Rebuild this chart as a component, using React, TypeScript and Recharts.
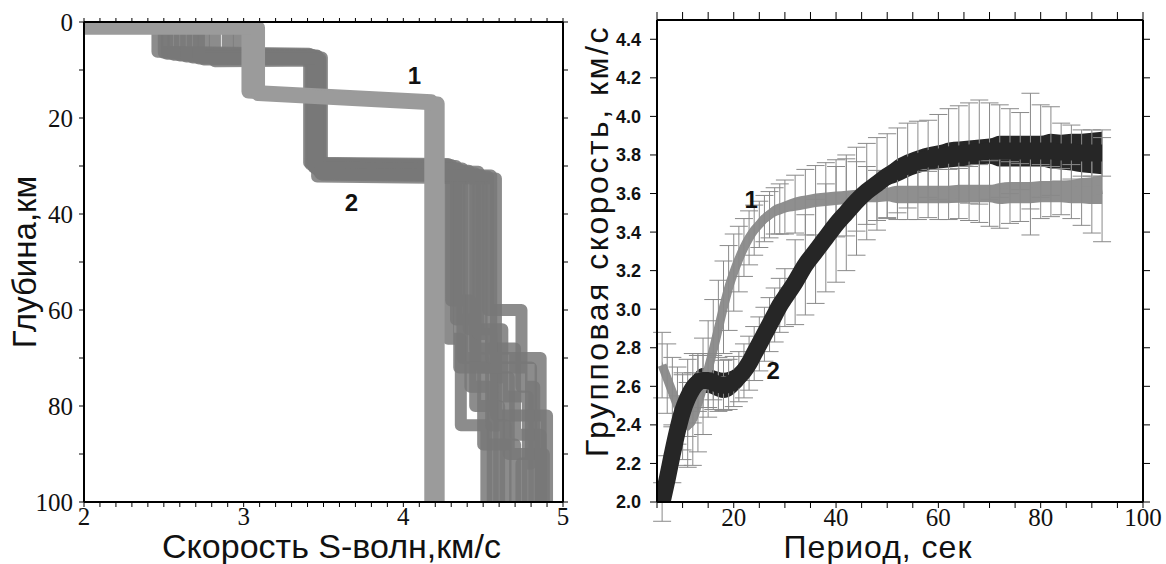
import React from "react";
import {
  Area,
  ComposedChart,
  ErrorBar,
  Line,
  ReferenceDot,
  XAxis,
  YAxis,
} from "recharts";

// ---------- left panel: S-wave velocity profiles, [velocity km/s, depth km]
const model1Top: number[][] = [[2.0, 0.9], [3.03, 0.9], [3.03, 14.5], [4.175, 16.5], [4.175, 100]];
const model1Low: number[][] = [[2.0, 1.2], [3.09, 1.2], [3.09, 15.0], [4.215, 17.0], [4.215, 100]];

const run1: number[][] = [[2.0, 0.6], [2.46, 0.6], [2.46, 6.2], [3.41, 6.6], [3.41, 29.3], [4.28, 29.6], [4.28, 66], [4.36, 66], [4.36, 84], [4.52, 84], [4.52, 100]];
const run2: number[][] = [[2.0, 0.7], [2.52, 0.7], [2.52, 6.6], [3.42, 6.9], [3.42, 29.7], [4.33, 30], [4.33, 62], [4.45, 62], [4.45, 80], [4.6, 80], [4.6, 100]];
const run3: number[][] = [[2.0, 0.8], [2.6, 0.8], [2.6, 7.0], [3.44, 7.2], [3.44, 30.1], [4.37, 30.5], [4.37, 70], [4.5, 70], [4.5, 88], [4.7, 88], [4.7, 100]];
const run4: number[][] = [[2.0, 0.6], [2.68, 0.6], [2.68, 7.4], [3.45, 7.5], [3.45, 30.5], [4.41, 31], [4.41, 64], [4.62, 64], [4.62, 78], [4.78, 78], [4.78, 100]];
const run5: number[][] = [[2.0, 0.9], [2.75, 0.9], [2.75, 7.8], [3.47, 7.8], [3.47, 31], [4.45, 31.5], [4.45, 68], [4.7, 68], [4.7, 86], [4.86, 86], [4.86, 100]];
const run6: number[][] = [[2.0, 0.7], [2.82, 0.7], [2.82, 8.2], [3.48, 8.0], [3.48, 31.4], [4.49, 32], [4.49, 72], [4.58, 72], [4.58, 82], [4.9, 82], [4.9, 100]];
const run7: number[][] = [[2.0, 0.8], [2.9, 0.8], [2.9, 7.6], [3.49, 7.4], [3.49, 31.8], [4.53, 32.2], [4.53, 60], [4.74, 60], [4.74, 76], [4.82, 76], [4.82, 100]];
const run8: number[][] = [[2.0, 0.6], [2.97, 0.6], [2.97, 7.0], [3.46, 7.0], [3.46, 32.2], [4.58, 32.6], [4.58, 74], [4.66, 74], [4.66, 90], [4.88, 90], [4.88, 100]];
const run9: number[][] = [[2.0, 0.7], [2.5, 0.7], [2.5, 6.4], [3.43, 6.8], [3.43, 29.5], [4.3, 29.8], [4.3, 58], [4.42, 58], [4.42, 76], [4.56, 76], [4.56, 100]];
const run10: number[][] = [[2.0, 0.8], [2.56, 0.8], [2.56, 6.8], [3.46, 7.1], [3.46, 30.8], [4.47, 31.2], [4.47, 65], [4.55, 65], [4.55, 84], [4.64, 84], [4.64, 100]];
const run11: number[][] = [[2.0, 0.6], [2.64, 0.6], [2.64, 7.2], [3.44, 7.3], [3.44, 30.3], [4.35, 30.6], [4.35, 72], [4.8, 72], [4.8, 92], [4.74, 92], [4.74, 100]];
const run12: number[][] = [[2.0, 0.9], [2.72, 0.9], [2.72, 7.6], [3.48, 7.6], [3.48, 31.6], [4.55, 32], [4.55, 70], [4.86, 70], [4.86, 100]];
const model2Runs = [run1, run2, run3, run4, run5, run6, run7, run8, run9, run10, run11, run12];

const speedTicks = [2, 2.1, 2.2, 2.3, 2.4, 2.5, 2.6, 2.7, 2.8, 2.9, 3, 3.1, 3.2, 3.3, 3.4, 3.5, 3.6, 3.7, 3.8, 3.9, 4, 4.1, 4.2, 4.3, 4.4, 4.5, 4.6, 4.7, 4.8, 4.9, 5];
const depthTicks = [0, 10, 20, 30, 40, 50, 60, 70, 80, 90, 100];

// ---------- right panel: group velocity dispersion
const periods = [6, 7, 8, 9, 10, 11, 12, 13, 14, 15, 16, 17, 18, 19, 20, 21, 22, 23, 24, 25, 26, 27, 28, 29, 30,
  32, 34, 36, 38, 40, 42, 44, 46, 48, 50, 52, 54, 56, 58, 60, 62, 64, 66, 68, 70, 72, 74, 76, 78, 80, 82, 84, 86, 88, 90, 92];
const curve1 = [2.71, 2.64, 2.57, 2.5, 2.44, 2.4, 2.43, 2.51, 2.6, 2.69, 2.79, 2.9, 3.01, 3.11, 3.19, 3.26, 3.32, 3.37, 3.41, 3.44, 3.47, 3.49, 3.51, 3.52, 3.53,
  3.545, 3.555, 3.565, 3.57, 3.575, 3.58, 3.585, 3.59, 3.59, 3.595, 3.595, 3.595, 3.595, 3.595, 3.595, 3.595, 3.6, 3.6, 3.6, 3.6, 3.6, 3.605, 3.605, 3.605, 3.61, 3.61, 3.61, 3.61, 3.615, 3.615, 3.62];
const spread1 = [0.02, 0.02, 0.02, 0.02, 0.02, 0.03, 0.03, 0.03, 0.03, 0.02, 0.02, 0.02, 0.02, 0.02, 0.02, 0.03, 0.03, 0.03, 0.03, 0.03, 0.03, 0.03, 0.03, 0.03, 0.03,
  0.035, 0.035, 0.035, 0.035, 0.035, 0.035, 0.035, 0.035, 0.035, 0.035, 0.045, 0.045, 0.045, 0.045, 0.045, 0.045, 0.045, 0.045, 0.045, 0.045, 0.055, 0.055, 0.055, 0.055, 0.055, 0.055, 0.055, 0.06, 0.065, 0.07, 0.075];
const curve2 = [2.0, 2.12, 2.25, 2.37, 2.47, 2.54, 2.59, 2.62, 2.63, 2.63, 2.62, 2.61, 2.605, 2.61, 2.625, 2.65, 2.68, 2.72, 2.77, 2.82, 2.87, 2.92, 2.97, 3.02, 3.06,
  3.14, 3.23, 3.3, 3.37, 3.44, 3.5, 3.56, 3.61, 3.65, 3.69, 3.72, 3.745, 3.765, 3.78, 3.79, 3.8, 3.805, 3.81, 3.815, 3.82, 3.82, 3.82, 3.82, 3.82, 3.82, 3.82, 3.815, 3.815, 3.81, 3.81, 3.81];
const spread2 = [0.03, 0.03, 0.03, 0.03, 0.03, 0.065, 0.065, 0.065, 0.065, 0.065, 0.065, 0.065, 0.065, 0.065, 0.065, 0.065, 0.065, 0.05, 0.05, 0.05, 0.05, 0.05, 0.05, 0.05, 0.05,
  0.05, 0.05, 0.05, 0.05, 0.05, 0.05, 0.05, 0.05, 0.05, 0.05, 0.06, 0.06, 0.06, 0.06, 0.06, 0.065, 0.065, 0.065, 0.065, 0.065, 0.08, 0.08, 0.08, 0.08, 0.08, 0.09, 0.09, 0.095, 0.1, 0.105, 0.11];
const err1 = [0.17, 0.18, 0.18, 0.2, 0.22, 0.22, 0.24, 0.25, 0.25, 0.25, 0.26, 0.25, 0.24, 0.22, 0.2, 0.17, 0.15, 0.14, 0.13, 0.12, 0.12, 0.12, 0.12, 0.13, 0.14,
  0.15, 0.17, 0.18, 0.19, 0.2, 0.2, 0.18, 0.15, 0.13, 0.12, 0.13, 0.13, 0.13, 0.12, 0.13, 0.13, 0.13, 0.14, 0.15, 0.17, 0.18, 0.16, 0.15, 0.22, 0.14, 0.13, 0.12, 0.14, 0.18, 0.22, 0.27];
const err2 = [0.1, 0.12, 0.15, 0.18, 0.2, 0.2, 0.18, 0.15, 0.14, 0.14, 0.14, 0.14, 0.13, 0.13, 0.13, 0.13, 0.14, 0.14, 0.14, 0.14, 0.14, 0.14, 0.14, 0.14, 0.15,
  0.22, 0.26, 0.27, 0.28, 0.3, 0.3, 0.28, 0.25, 0.24, 0.22, 0.22, 0.22, 0.21, 0.2, 0.22, 0.24, 0.25, 0.26, 0.27, 0.25, 0.24, 0.22, 0.2, 0.3, 0.24, 0.23, 0.15, 0.14, 0.12, 0.12, 0.12];

const periodTicks = [5, 10, 15, 20, 25, 30, 35, 40, 45, 50, 55, 60, 65, 70, 75, 80, 85, 90, 95, 100];
const velTicks = [2, 2.2, 2.4, 2.6, 2.8, 3, 3.2, 3.4, 3.6, 3.8, 4, 4.2, 4.4];

const gvRows = periods.map((p, i) => ({
  p,
  c1: curve1[i],
  c2: curve2[i],
  b1: [curve1[i] - spread1[i], curve1[i] + spread1[i]],
  b2: [curve2[i] - spread2[i], curve2[i] + spread2[i]],
  e1: err1[i],
  e2: err2[i],
}));

const toPts = (run: number[][]) => run.map(([v, d]) => ({ v, d }));

const serif = "Liberation Serif";
const sans = "Liberation Sans";
const frame = { stroke: "#000", strokeWidth: 2 };
const tickLn = { stroke: "#000", strokeWidth: 1 };
const tag = { fontFamily: sans, fontSize: 24, fontWeight: 700, fill: "#111" };

// tick label renderer, so the font is really applied
function makeTick(fmt: (v: number) => string, side: "bottom" | "left", font: string, size: number, weight = 400) {
  return (props: any) => {
    const { x, y, payload } = props;
    const s = fmt(payload.value);
    if (!s) return <g />;
    return (
      <text
        x={x}
        y={y}
        dy={side === "bottom" ? "0.7em" : "0.36em"}
        textAnchor={side === "bottom" ? "middle" : "end"}
        style={{ fontFamily: font, fontSize: size, fontWeight: weight, fill: "#111" }}
      >
        {s}
      </text>
    );
  };
}
const blankTick = () => <g />;

function ProfilePanel() {
  return (
    <ComposedChart width={580} height={564} margin={{ top: 21, right: 16, bottom: 0, left: 0 }}>
      <XAxis
        dataKey="v"
        type="number"
        domain={[2, 5]}
        ticks={speedTicks}
        interval={0}
        allowDataOverflow
        height={62}
        axisLine={frame}
        tickLine={tickLn}
        tickSize={5}
        tickMargin={0}
        tick={makeTick((v) => (Number.isInteger(v) ? String(v) : ""), "bottom", serif, 25)}
        label={{ value: "Скорость S-волн,км/с", position: "insideBottom", offset: 6, dx: 8, style: { fontFamily: sans, fontSize: 34, fill: "#111" } }}
      />
      <XAxis
        xAxisId="top"
        dataKey="v"
        orientation="top"
        type="number"
        domain={[2, 5]}
        ticks={speedTicks}
        interval={0}
        allowDataOverflow
        height={1}
        axisLine={frame}
        tickLine={tickLn}
        tickSize={4}
        tick={blankTick}
      />
      <YAxis
        dataKey="d"
        type="number"
        domain={[0, 100]}
        reversed
        ticks={depthTicks}
        interval={0}
        allowDataOverflow
        width={84}
        axisLine={frame}
        tickLine={tickLn}
        tickSize={5}
        tickMargin={6}
        tick={makeTick((v) => (v % 20 === 0 ? String(v) : ""), "left", serif, 25)}
        label={{ value: "Глубина,км", angle: -90, position: "insideLeft", offset: 24, style: { fontFamily: sans, fontSize: 33, fill: "#111", textAnchor: "middle" } }}
      />
      <YAxis
        yAxisId="right"
        dataKey="d"
        orientation="right"
        type="number"
        domain={[0, 100]}
        reversed
        ticks={depthTicks}
        interval={0}
        allowDataOverflow
        width={1}
        axisLine={frame}
        tickLine={tickLn}
        tickSize={5}
        tick={blankTick}
      />
      {model2Runs.map((run, i) => (
        <Line
          key={"m2-" + i}
          data={toPts(run)}
          dataKey="d"
          type="linear"
          stroke="#787878"
          strokeOpacity={0.85}
          strokeWidth={12}
          strokeLinejoin="round"
          dot={false}
          activeDot={false}
          isAnimationActive={false}
        />
      ))}
      {[model1Top, model1Low].map((run, i) => (
        <Line
          key={"m1-" + i}
          data={toPts(run)}
          dataKey="d"
          type="linear"
          stroke="#9b9b9b"
          strokeWidth={14}
          strokeLinejoin="round"
          dot={false}
          activeDot={false}
          isAnimationActive={false}
        />
      ))}
      {/* invisible series bound to the mirrored frame axes */}
      <Line
        xAxisId="top"
        yAxisId="right"
        data={toPts(model1Top)}
        dataKey="d"
        stroke="none"
        dot={false}
        activeDot={false}
        isAnimationActive={false}
      />
      <ReferenceDot x={4.07} y={11.2} r={0} fill="none" stroke="none" label={{ value: "1", position: "center", style: tag }} />
      <ReferenceDot x={3.675} y={37.7} r={0} fill="none" stroke="none" label={{ value: "2", position: "center", style: tag }} />
    </ComposedChart>
  );
}

function DispersionPanel() {
  return (
    <ComposedChart width={586} height={564} data={gvRows} margin={{ top: 19, right: 22, bottom: 0, left: 0 }}>
      <XAxis
        dataKey="p"
        type="number"
        domain={[5, 100]}
        ticks={periodTicks}
        interval={0}
        allowDataOverflow
        height={62}
        axisLine={frame}
        tickLine={tickLn}
        tickSize={6}
        tickMargin={0}
        tick={makeTick((v) => (v % 20 === 0 ? String(v) : ""), "bottom", serif, 25)}
        label={{ value: "Период, сек", position: "insideBottom", offset: 6, dx: -22, style: { fontFamily: sans, fontSize: 32, letterSpacing: 1, fill: "#111" } }}
      />
      <XAxis
        xAxisId="top"
        dataKey="p"
        orientation="top"
        type="number"
        domain={[5, 100]}
        ticks={periodTicks}
        interval={0}
        allowDataOverflow
        height={1}
        axisLine={frame}
        tickLine={tickLn}
        tickSize={8}
        tick={blankTick}
      />
      <YAxis
        type="number"
        domain={[2, 4.5]}
        ticks={velTicks}
        interval={0}
        allowDataOverflow
        width={77}
        axisLine={frame}
        tickLine={tickLn}
        tickSize={7}
        tickMargin={9}
        tick={makeTick((v) => v.toFixed(1), "left", sans, 18, 700)}
        label={{ value: "Групповая скорость, км/с", angle: -90, position: "insideLeft", offset: 17, dy: -20, style: { fontFamily: sans, fontSize: 32, letterSpacing: 2.5, fill: "#111", textAnchor: "middle" } }}
      />
      <YAxis
        yAxisId="right"
        orientation="right"
        type="number"
        domain={[2, 4.5]}
        ticks={velTicks}
        interval={0}
        allowDataOverflow
        width={1}
        axisLine={frame}
        tickLine={tickLn}
        tickSize={7}
        tick={blankTick}
      />
      <Area dataKey="b1" type="monotone" fill="#8f8f8f" fillOpacity={1} stroke="none" isAnimationActive={false} />
      <Line dataKey="c1" type="monotone" stroke="#8f8f8f" strokeWidth={9} dot={false} activeDot={false} isAnimationActive={false} />
      <Line dataKey="c1" stroke="none" dot={false} activeDot={false} isAnimationActive={false}>
        <ErrorBar dataKey="e1" width={9} stroke="#8a8a8a" strokeWidth={1} />
      </Line>
      <Line dataKey="c2" stroke="none" dot={false} activeDot={false} isAnimationActive={false}>
        <ErrorBar dataKey="e2" width={9} stroke="#8a8a8a" strokeWidth={1} />
      </Line>
      <Area dataKey="b2" type="monotone" fill="#262626" fillOpacity={1} stroke="none" isAnimationActive={false} />
      <Line dataKey="c2" type="monotone" stroke="#262626" strokeWidth={17} dot={false} activeDot={false} isAnimationActive={false} />
      {/* invisible series bound to the mirrored frame axes */}
      <Line xAxisId="top" yAxisId="right" dataKey="c1" stroke="none" dot={false} activeDot={false} isAnimationActive={false} />
      <ReferenceDot x={23.4} y={3.57} r={0} fill="none" stroke="none" label={{ value: "1", position: "center", style: tag }} />
      <ReferenceDot x={27.7} y={2.68} r={0} fill="none" stroke="none" label={{ value: "2", position: "center", style: tag }} />
    </ComposedChart>
  );
}

export default function App() {
  return (
    <div style={{ position: "absolute", left: 0, top: 0, width: 1166, height: 564, background: "#fff", overflow: "hidden" }}>
      <div style={{ position: "absolute", left: 0, top: 0 }}>
        <ProfilePanel />
      </div>
      <div style={{ position: "absolute", left: 580, top: 0 }}>
        <DispersionPanel />
      </div>
    </div>
  );
}
